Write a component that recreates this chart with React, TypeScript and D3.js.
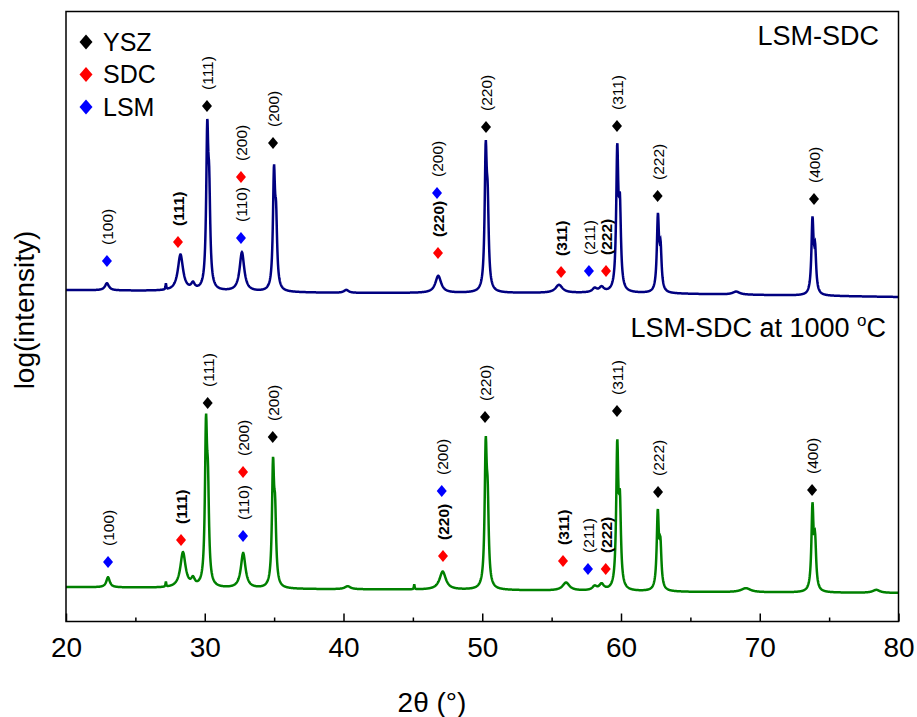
import React, { useEffect, useRef } from "react";
import * as d3 from "d3";

// x axis ticks
const xTicks = [20, 30, 40, 50, 60, 70, 80];
const xMinorTicks = [25, 35, 45, 55, 65, 75];

// baseline levels of each pattern, [2theta, level]
const baseTop: number[][] = [[20, 331], [40, 328], [60, 328], [80, 324]];
const baseBottom: number[][] = [[20, 34], [35, 32], [50, 31], [65, 29], [80, 28]];

// reflections, [2theta, height, fwhm]
const peaksTop: number[][] = [
  [22.95, 7, 0.35], [27.2, 6, 0.06], [28.25, 36, 0.45], [29.15, 6, 0.3],
  [30.18, 148, 0.18], [30.32, 81, 0.18], [32.68, 39, 0.4],
  [34.99, 111, 0.18], [35.14, 61, 0.18], [40.2, 3, 0.4], [46.83, 17, 0.5],
  [50.25, 131, 0.18], [50.39, 72, 0.18], [55.53, 8, 0.6], [58.1, 4, 0.4], [58.6, 5, 0.4],
  [59.73, 136, 0.18], [59.92, 75, 0.18], [62.66, 73, 0.18], [62.85, 40, 0.18],
  [68.3, 3, 0.6], [73.8, 72, 0.18], [73.99, 40, 0.18],
];
const peaksBottom: number[][] = [
  [23.03, 10, 0.3], [27.2, 5, 0.06], [28.43, 35, 0.45], [29.15, 7, 0.3],
  [30.09, 149, 0.18], [30.23, 82, 0.18], [32.77, 35, 0.4],
  [34.92, 115, 0.18], [35.07, 63, 0.18], [40.3, 3, 0.5], [45.1, 5, 0.06], [47.15, 18, 0.55],
  [50.25, 132, 0.18], [50.39, 72, 0.18], [56.04, 8, 0.6], [58.1, 4, 0.4], [58.6, 6, 0.4],
  [59.73, 138, 0.18], [59.92, 76, 0.18], [62.65, 75, 0.18], [62.84, 41, 0.18],
  [69.0, 4, 0.8], [73.8, 82, 0.18], [73.99, 45, 0.18], [78.4, 3, 0.6],
];

// phase markers, [phase, 2theta, level, hkl]
const marksTop: [string, number, number, string][] = [
  ["LSM", 22.95, 360, "(100)"], ["SDC", 28.07, 379, "(111)"], ["YSZ", 30.16, 515, "(111)"],
  ["LSM", 32.61, 383, "(110)"], ["SDC", 32.61, 444, "(200)"], ["YSZ", 34.92, 478, "(200)"],
  ["LSM", 46.74, 428, "(200)"], ["SDC", 46.81, 368, "(220)"], ["YSZ", 50.27, 494, "(220)"],
  ["SDC", 55.68, 349, "(311)"], ["LSM", 57.69, 350, "(211)"], ["SDC", 58.92, 350, "(222)"],
  ["YSZ", 59.71, 495, "(311)"], ["YSZ", 62.64, 425, "(222)"], ["YSZ", 73.91, 422, "(400)"],
];
const marksBottom: [string, number, number, string][] = [
  ["LSM", 23.03, 59, "(100)"], ["SDC", 28.29, 81, "(111)"], ["YSZ", 30.21, 218, "(111)"],
  ["LSM", 32.76, 85, "(110)"], ["SDC", 32.76, 149, "(200)"], ["YSZ", 34.9, 184, "(200)"],
  ["LSM", 47.08, 130, "(200)"], ["SDC", 47.17, 65, "(220)"], ["YSZ", 50.2, 204, "(220)"],
  ["SDC", 55.82, 60, "(311)"], ["LSM", 57.62, 52, "(211)"], ["SDC", 58.9, 52, "(222)"],
  ["YSZ", 59.71, 210, "(311)"], ["YSZ", 62.67, 129, "(222)"], ["YSZ", 73.77, 131, "(400)"],
];
// SDC reflections written in bold in the original
const boldSDC = ["(111)", "(220)", "(311)", "(222)"];

const legendItems = ["YSZ", "SDC", "LSM"];
const phaseColor: Record<string, string> = { YSZ: "#000000", SDC: "#ff0000", LSM: "#0000ff" };

const font = "'Liberation Sans', Arial, Helvetica, sans-serif";
const W = 917, H = 717;
const left = 66, right = 898.5, top = 11.5, bottom = 621.5;

const x = d3.scaleLinear().domain([20, 80]).range([left, right]);
const y = d3.scaleLinear().domain([0, 610]).range([621, 11]);

function pattern(base: number[][], peaks: number[][]) {
  const bl = d3.scaleLinear().domain(base.map(d => d[0])).range(base.map(d => d[1]));
  return d3.range(20, 80.0001, 0.02).map(t => {
    let v = bl(t);
    for (const [c, h, w] of peaks) {
      const u = (t - c) / (w / 2);
      v += h / (1 + u * u);
    }
    return [t, v] as [number, number];
  });
}

const diamond = "M0,-6L5,0L0,6L-5,0Z";
const bigDiamond = "M0,-7.5L6.5,0L0,7.5L-6.5,0Z";

function Marks({ marks }: { marks: [string, number, number, string][] }) {
  return (
    <g>
      {marks.map(([ph, t, lv, hkl], i) => (
        <g key={i}>
          <path d={diamond} transform={`translate(${x(t)},${y(lv)})`} fill={phaseColor[ph]} />
          <text
            transform={`translate(${x(t) + 1},${y(lv) - 16}) rotate(-90)`}
            dy="0.35em"
            fontSize={15.5}
            fontWeight={ph === "SDC" && boldSDC.includes(hkl) ? "bold" : "normal"}
            fontFamily={font}
          >
            {hkl}
          </text>
        </g>
      ))}
    </g>
  );
}

export default function App() {
  const axisRef = useRef<SVGGElement>(null);
  const line = d3.line<[number, number]>().x(d => x(d[0])).y(d => y(d[1]));
  const topData = pattern(baseTop, peaksTop);
  const bottomData = pattern(baseBottom, peaksBottom);

  useEffect(() => {
    const g = d3.select(axisRef.current);
    g.selectAll("*").remove();
    const major = g.append("g").call(
      d3.axisBottom(x).tickValues(xTicks).tickSize(-8).tickPadding(16).tickFormat(d3.format("d"))
    );
    const minor = g.append("g").call(
      d3.axisBottom(x).tickValues(xMinorTicks).tickSize(-4).tickFormat(() => "")
    );
    [major, minor].forEach(a => {
      a.select(".domain").remove();
      a.selectAll("line").attr("stroke", "#000").attr("stroke-width", 1.5);
    });
    major.selectAll("text").attr("font-size", 28).attr("font-family", font).attr("fill", "#000");
  }, []);

  return (
    <svg width={W} height={H} style={{ position: "absolute", left: 0, top: 0, background: "#fff" }}>
      <defs>
        <clipPath id="plot">
          <rect x={left} y={top} width={right - left} height={bottom - top} />
        </clipPath>
      </defs>
      <g clipPath="url(#plot)">
        <path d={line(topData) || ""} fill="none" stroke="#000080" strokeWidth={2.5} />
        <path d={line(bottomData) || ""} fill="none" stroke="#008000" strokeWidth={2.5} />
      </g>
      <Marks marks={marksTop} />
      <Marks marks={marksBottom} />
      <rect x={left} y={top} width={right - left} height={bottom - top} fill="none" stroke="#000" strokeWidth={1.5} />
      <g ref={axisRef} transform={`translate(0,${bottom})`} />

      {/* legend */}
      {legendItems.map((p, i) => (
        <g key={p} transform={`translate(86,${42 + i * 32.5})`}>
          <path d={bigDiamond} fill={phaseColor[p]} />
          <text x={17} y={8.5} fontSize={25} fontFamily={font}>{p}</text>
        </g>
      ))}

      <text x={879} y={45} textAnchor="end" fontSize={27} fontFamily={font}>LSM-SDC</text>
      <text x={886} y={337} textAnchor="end" fontSize={27} fontFamily={font}>
        LSM-SDC at 1000 <tspan fontSize={17} dy={-11}>o</tspan><tspan dy={11}>C</tspan>
      </text>

      <text transform="translate(34,310) rotate(-90)" textAnchor="middle" fontSize={28} fontFamily={font}>
        log(intensity)
      </text>
      <text x={432} y={712} textAnchor="middle" fontSize={28} fontFamily={font}>2θ (°)</text>
    </svg>
  );
}
